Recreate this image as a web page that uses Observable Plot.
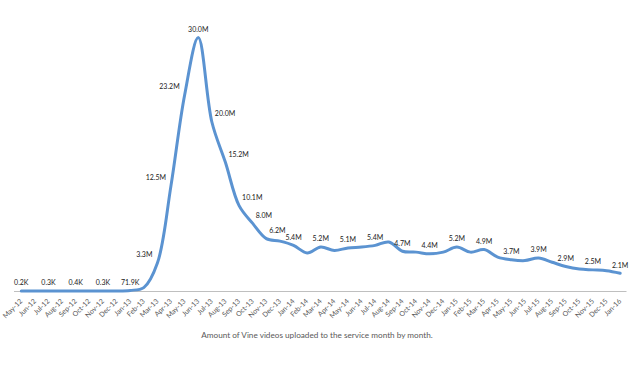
<!DOCTYPE html>
<html><head><meta charset="utf-8">
<script src="https://cdn.jsdelivr.net/npm/d3@7"></script>
<script src="https://cdn.jsdelivr.net/npm/@observablehq/plot@0.6"></script>
<style>
body{margin:0;background:#fff;font-family:Lato,sans-serif}
#cap{font-size:8.2px;color:#595959;text-align:center;margin-top:7px;line-height:12px;padding-left:4px}
</style>
</head><body>
<div id="chart"></div>
<div id="cap">Amount of Vine videos uploaded to the service month by month.</div>
<script>
const months = ["May-12","Jun-12","Jul-12","Aug-12","Sep-12","Oct-12","Nov-12","Dec-12",
  "Jan-13","Feb-13","Mar-13","Apr-13","May-13","Jun-13","Jul-13","Aug-13","Sep-13","Oct-13","Nov-13","Dec-13",
  "Jan-14","Feb-14","Mar-14","Apr-14","May-14","Jun-14","Jul-14","Aug-14","Sep-14","Oct-14","Nov-14","Dec-14",
  "Jan-15","Feb-15","Mar-15","Apr-15","May-15","Jun-15","Jul-15","Aug-15","Sep-15","Oct-15","Nov-15","Dec-15",
  "Jan-16"];
// uploads per month, millions
const values = [0.0002,0.00025,0.0003,0.00035,0.0004,0.00035,0.0003,0.002,
  0.0719,0.4,3.3,12.5,23.2,30.0,20.0,15.2,10.1,8.0,6.2,5.9,
  5.4,4.5,5.2,4.8,5.1,5.2,5.4,5.8,4.7,4.6,4.4,4.6,
  5.2,4.6,4.9,4.0,3.7,3.6,3.9,3.4,2.9,2.6,2.5,2.4,
  2.1];
const labels = ["0.2K","","0.3K","","0.4K","","0.3K","",
  "71.9K","","3.3M","12.5M","23.2M","30.0M","20.0M","15.2M","10.1M","8.0M","6.2M","",
  "5.4M","","5.2M","","5.1M","","5.4M","","4.7M","","4.4M","",
  "5.2M","","4.9M","","3.7M","","3.9M","","2.9M","","2.5M","",
  "2.1M"];

const data = months.map((m, i) => ({month: m, value: values[i], label: labels[i], i}));

function side(i) {
  const prev = i > 0 ? values[i - 1] : values[i];
  const next = i < values.length - 1 ? values[i + 1] : values[i];
  if (values[i] >= prev && values[i] >= next) return "middle";
  const slope = next - prev;
  if (slope > 3) return "end";
  if (slope < -2) return "start";
  return "middle";
}
const lab = data.filter(d => d.label);
const txt = {x: "month", y: "value", text: "label", dy: -8, fontSize: 7, fill: "#1a1a1a"};

const chart = Plot.plot({
  width: 630, height: 322,
  marginLeft: 14, marginRight: 3.5, marginTop: 37, marginBottom: 31.5,
  x: {type: "point", domain: months, padding: 0.5, round: false, label: null},
  y: {domain: [0, 30], axis: null},
  style: {fontFamily: "Lato, sans-serif", background: "#fff"},
  marks: [
    Plot.ruleY([0], {stroke: "#bfbfbf", strokeWidth: 1, dy: 0.5}),
    Plot.axisX({tickRotate: -45, tickSize: 0, tickPadding: 9, fontSize: 7, fill: "#595959", label: null}),
    Plot.line(data, {x: "month", y: "value", stroke: "#5b93d1", strokeWidth: 3, curve: "catmull-rom"}),
    Plot.text(lab.filter(d => side(d.i) === "middle"), {...txt}),
    Plot.text(lab.filter(d => side(d.i) === "end"), {...txt, textAnchor: "end", dx: -5}),
    Plot.text(lab.filter(d => side(d.i) === "start"), {...txt, textAnchor: "start", dx: 3})
  ]
});
document.getElementById("chart").append(chart);
</script>
</body></html>
